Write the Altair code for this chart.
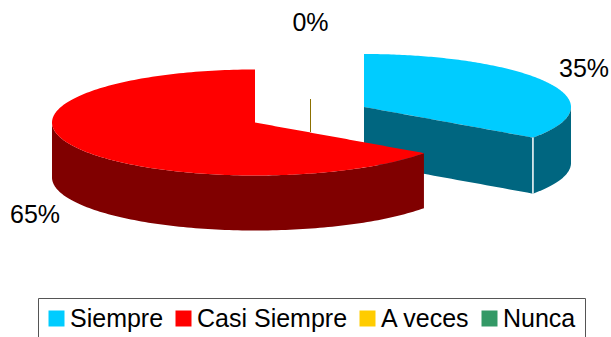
import altair as alt
import numpy as np
import pandas as pd

categories = ["Siempre", "Casi Siempre", "A veces", "Nunca"]
shares = [35, 65, 0, 0]
labels = ["35%", "65%", "0%"]
top_colors = ["#00CCFF", "#FF0000", "#FFCC00", "#339966"]
side_colors = {"Siempre": "#006680", "Casi Siempre": "#800000"}

# Pie geometry in screen units
W, H = 611, 337
RY = 53
BLUE = dict(cx=364.0, cy=107.0, rx_right=207.0, rx_left=207.0, depth=56)
RED = dict(cx=255.0, cy=122.5, rx_right=207.0, rx_left=203.0, depth=55)
VIEW_SHIFT = -0.7  # degrees the tilted view moves the slice boundary

split = np.deg2rad(shares[0] / sum(shares) * 360 + VIEW_SHIFT)


def point(s, a):
    a = np.asarray(a, float)
    rx = np.where(np.sin(a) >= 0, s["rx_right"], s["rx_left"])
    return s["cx"] + rx * np.sin(a), s["cy"] - RY * np.cos(a)


def rim(a0, a1, n=120):
    return np.linspace(a0, a1, n)


def band(name, part, xs, ys, y2s):
    return pd.DataFrame({"x": np.asarray(xs, float), "top_y": np.asarray(ys, float),
                         "low_y": np.asarray(y2s, float), "serie": name, "part": part})


def inner_edge(s, x):
    ex, ey = point(s, split)
    return s["cy"] + (x - s["cx"]) / (ex - s["cx"]) * (ey - s["cy"])


# Exploded slice: cut face, outer wall and top surface
ex_b, ey_b = point(BLUE, split)
xs = np.linspace(BLUE["cx"], ex_b, 30)
blue_cut = band("Siempre", "cut", xs, inner_edge(BLUE, xs), inner_edge(BLUE, xs) + BLUE["depth"])

a = rim(split, np.pi / 2)[::-1]
x_wall, y_wall = point(BLUE, a)
blue_wall = band("Siempre", "wall", x_wall, y_wall, y_wall + BLUE["depth"])

a_up = rim(0, np.pi / 2)
x_up, y_up = point(BLUE, a_up)
y_low = np.where(x_up <= ex_b, inner_edge(BLUE, x_up),
                 BLUE["cy"] + (BLUE["cy"] - y_up))
blue_top = band("Siempre", "top", x_up, y_up, y_low)

# Main slice: outer wall and top surface
a = rim(split, 1.5 * np.pi)[::-1]
x_wall, y_wall = point(RED, a)
red_wall = band("Casi Siempre", "wall", x_wall, y_wall, y_wall + RED["depth"])

ex_r, ey_r = point(RED, split)
left = x_wall < RED["cx"]
x_left = x_wall[left]
y_left_low = y_wall[left]
y_left_up = RED["cy"] - (y_left_low - RED["cy"])
x_right = np.linspace(RED["cx"] + 0.01, ex_r, 60)
y_right_low = RED["cy"] + RY * np.sqrt(1 - ((x_right - RED["cx"]) / RED["rx_right"]) ** 2)
red_top = band(
    "Casi Siempre", "top",
    np.r_[x_left, RED["cx"], x_right],
    np.r_[y_left_up, RED["cy"] - RY, inner_edge(RED, x_right)],
    np.r_[y_left_low, RED["cy"] + RY, y_right_low],
).sort_values("x")

x_enc = alt.X("x:Q", scale=alt.Scale(domain=[0, W], nice=False), axis=None)
y_enc = alt.Y("top_y:Q", scale=alt.Scale(domain=[H, 0], nice=False), axis=None)
y2_enc = alt.Y2("low_y:Q")
color_enc = alt.Color(
    "serie:N",
    scale=alt.Scale(domain=categories, range=top_colors),
    legend=alt.Legend(
        title=None, orient="none", legendX=44, legendY=306, direction="horizontal",
        columns=4, gridAlign="none", padding=0, symbolType="square", symbolSize=256,
        symbolStrokeWidth=0, labelFont="Liberation Sans", labelFontSize=25,
        labelColor="black", labelOffset=1, columnPadding=7, labelLimit=300,
    ),
)


def wall(df, colour):
    return alt.Chart(df).mark_area(color=colour, opacity=1).encode(x=x_enc, y=y_enc, y2=y2_enc)


def top(df):
    return alt.Chart(df).mark_area(opacity=1).encode(x=x_enc, y=y_enc, y2=y2_enc, color=color_enc)


# Frame around the legend, running off the bottom edge
legend_frame = alt.Chart(pd.DataFrame({"x": [38.5], "x_end": [585.5], "top_y": [298.5], "low_y": [345]})).mark_rect(
    fill="white", stroke="#555555", strokeWidth=1, clip=False
).encode(x=x_enc, x2="x_end:Q", y=y_enc, y2=y2_enc)

# Zero-share series collapses to a thin upright line
zero_line = alt.Chart(pd.DataFrame({"x": [310.5], "top_y": [99], "low_y": [132]})).mark_rule(
    color="#8C7000", strokeWidth=1).encode(x=x_enc, y=y_enc, y2=y2_enc)

# White seam on the corner between the cut face and the outer wall
seam = alt.Chart(pd.DataFrame({"x": [ex_b], "top_y": [ey_b], "low_y": [ey_b + BLUE["depth"]]})).mark_rule(
    color="white", strokeWidth=1.5).encode(x=x_enc, y=y_enc, y2=y2_enc)

label_table = pd.DataFrame({"x": [584, 35, 310.5], "top_y": [68.5, 215, 23], "t": labels})
text = alt.Chart(label_table).mark_text(
    font="Liberation Sans", fontSize=25, color="black", align="center", baseline="middle"
).encode(x=x_enc, y=y_enc, text="t:N")

chart = alt.layer(
    legend_frame,
    top(blue_top),
    wall(blue_cut, side_colors["Siempre"]),
    wall(blue_wall, side_colors["Siempre"]),
    seam,
    zero_line,
    wall(red_wall, side_colors["Casi Siempre"]),
    top(red_top),
    text,
).properties(
    width=W, height=H, padding=0, autosize=alt.AutoSizeParams(type="none")
).configure_view(stroke=None)

chart.save("out.html", embed_options={"renderer": "svg", "actions": False})
